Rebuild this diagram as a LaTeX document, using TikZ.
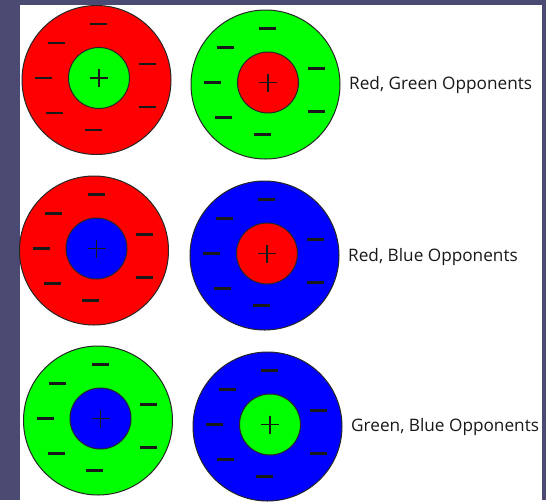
\documentclass[tikz,border=0pt]{standalone}
\usepackage{fontspec}
\setmainfont{Open Sans}
\definecolor{slide}{RGB}{74,74,114}
\definecolor{conered}{RGB}{255,0,0}
\definecolor{conegreen}{RGB}{0,255,0}
\definecolor{coneblue}{RGB}{0,0,255}
% one receptive field: surround colour #3, centre colour #4, at (#1,#2)
\newcommand{\fieldcell}[4]{%
  \begin{scope}[shift={(#1,#2)}]
    \draw[ring,fill=#3] (0,0) circle (74.5);
    \draw[ring,fill=#4] (2.5,-2) circle (30.5);
    \foreach \dx/\dy in {2/-56,-40.5/-37,-53/-2,-42/33,-3.5/50,50.5/-16,50.5/27}
      \draw[negsign] (\dx,\dy) ++(-8.5,0) -- ++(17,0);
    \draw[possign] (2.5,-11) -- (2.5,7);
    \draw[possign] (-6.5,-2) -- (11.5,-2);
  \end{scope}}
\begin{document}
\begin{tikzpicture}[x=1pt,y=-1pt,
  ring/.style={draw=black!85,line width=1pt},
  negsign/.style={line width=2.4pt,draw=black!90},
  possign/.style={line width=1.6pt,draw=black!90},
  opptext/.style={anchor=west,inner sep=0pt,text=black!90,font=\fontsize{17.2}{19}\selectfont}]
  % slide background and white sheet
  \fill[slide] (0,0) rectangle (546,500);
  \fill[white] (20,5) rectangle (542,500);

  % Red, Green
  \fieldcell{96.5}{80}{conered}{conegreen}
  \fieldcell{265.5}{84.5}{conegreen}{conered}
  \node[opptext] (rg) at (349,85) {Red, Green Opponents};

  % Red, Blue
  \fieldcell{94}{250.5}{conered}{coneblue}
  \fieldcell{264.5}{255.5}{coneblue}{conered}
  \node[opptext] (rb) at (348,257) {Red, Blue Opponents};

  % Green, Blue
  \fieldcell{98}{420.5}{conegreen}{coneblue}
  \fieldcell{267.5}{426.5}{coneblue}{conegreen}
  \node[opptext] (gb) at (351,427) {Green, Blue Opponents};
\end{tikzpicture}
\end{document}
